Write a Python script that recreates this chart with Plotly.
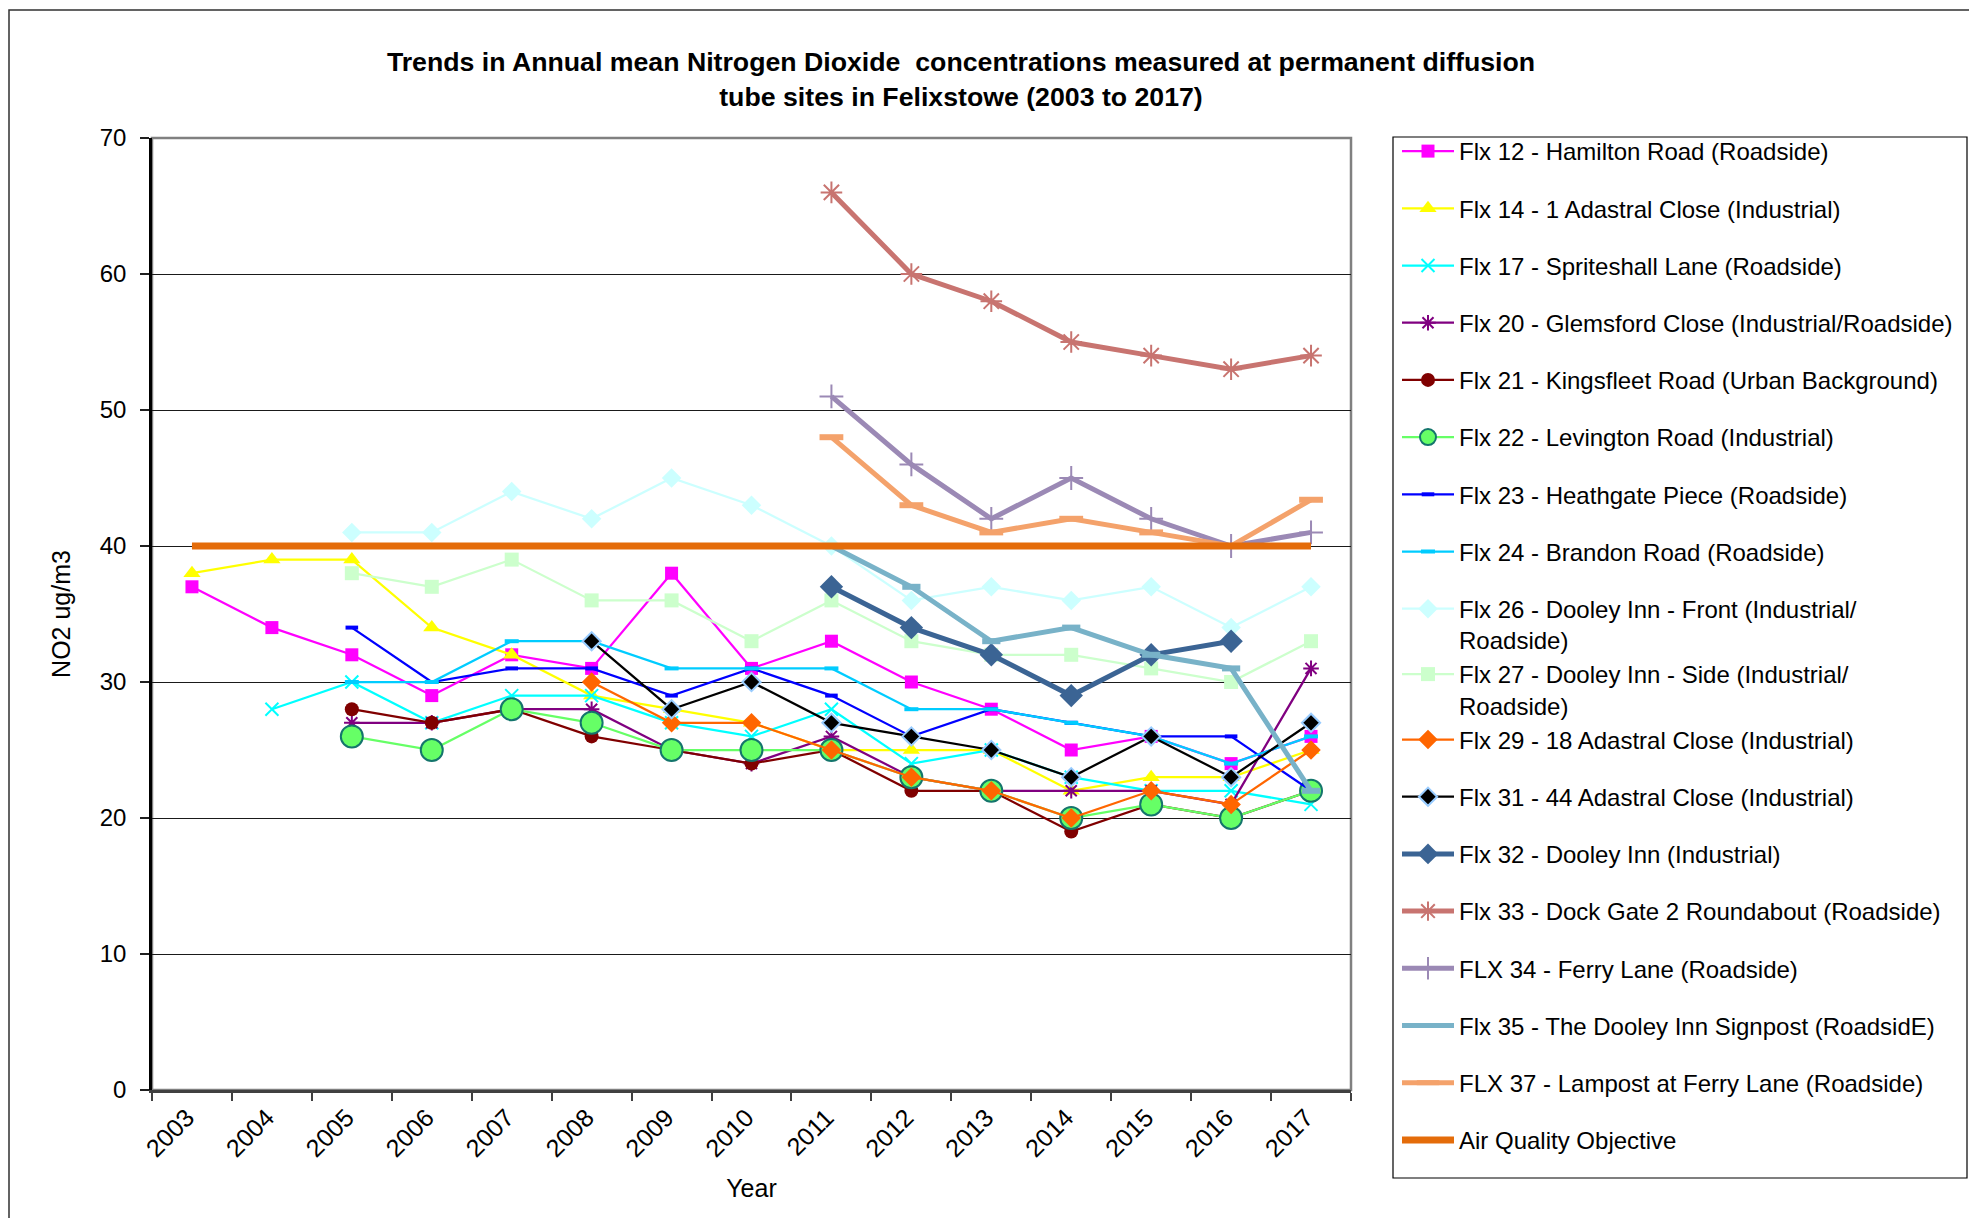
import plotly.graph_objects as go

years = ['2003', '2004', '2005', '2006', '2007', '2008', '2009', '2010',
         '2011', '2012', '2013', '2014', '2015', '2016', '2017']

flx12 = [37, 34, 32, 29, 32, 31, 38, 31, 33, 30, 28, 25, 26, 24, 26]
flx14 = [38, 39, 39, 34, 32, 29, 28, 27, 25, 25, 25, 22, 23, 23, 25]
flx17 = [None, 28, 30, 27, 29, 29, 27, 26, 28, 24, 25, 23, 22, 22, 21]
flx20 = [None, None, 27, 27, 28, 28, 25, 24, 26, 23, 22, 22, 22, 21, 31]
flx21 = [None, None, 28, 27, 28, 26, 25, 24, 25, 22, 22, 19, 21, 20, 22]
flx22 = [None, None, 26, 25, 28, 27, 25, 25, 25, 23, 22, 20, 21, 20, 22]
flx23 = [None, None, 34, 30, 31, 31, 29, 31, 29, 26, 28, 27, 26, 26, 22]
flx24 = [None, None, 30, 30, 33, 33, 31, 31, 31, 28, 28, 27, 26, 24, 26]
flx26 = [None, None, 41, 41, 44, 42, 45, 43, 40, 36, 37, 36, 37, 34, 37]
flx27 = [None, None, 38, 37, 39, 36, 36, 33, 36, 33, 32, 32, 31, 30, 33]
flx29 = [None, None, None, None, None, 30, 27, 27, 25, 23, 22, 20, 22, 21, 25]
flx31 = [None, None, None, None, None, 33, 28, 30, 27, 26, 25, 23, 26, 23, 27]
flx32 = [None, None, None, None, None, None, None, None, 37, 34, 32, 29, 32, 33, None]
flx33 = [None, None, None, None, None, None, None, None, 66, 60, 58, 55, 54, 53, 54]
flx34 = [None, None, None, None, None, None, None, None, 51, 46, 42, 45, 42, 40, 41]
flx35 = [None, None, None, None, None, None, None, None, 40, 37, 33, 34, 32, 31, 22]
flx37 = [None, None, None, None, None, None, None, None, 48, 43, 41, 42, 41, 40, 43.4]
aqo = [40] * 15

FONT = "Liberation Sans, Arial, sans-serif"

series = [
    ("Flx 12 - Hamilton Road (Roadside)", flx12, "#FF00FF", 2.25,
     dict(symbol="square", size=13, color="#FF00FF"), "g1"),
    ("Flx 14 - 1 Adastral Close (Industrial)", flx14, "#FFFF00", 2.25,
     dict(symbol="triangle-up", size=15, color="#FFFF00"), "g2"),
    ("Flx 17 - Spriteshall Lane (Roadside)", flx17, "#00FFFF", 2.25,
     dict(symbol="x-thin-open", size=13, color="#00FFFF", line=dict(color="#00FFFF", width=2)), "g3"),
    ("Flx 20 - Glemsford Close (Industrial/Roadside)", flx20, "#800080", 2.25,
     dict(symbol="asterisk-open", size=13, color="#800080", line=dict(color="#800080", width=2)), "g4"),
    ("Flx 21 - Kingsfleet Road (Urban Background)", flx21, "#800000", 2.25,
     dict(symbol="circle", size=14, color="#800000"), "g5"),
    ("Flx 22 - Levington Road (Industrial)", flx22, "#66FF66", 2.25,
     dict(symbol="circle", size=22, color="#66FF66", line=dict(color="#14756C", width=2)), "g6"),
    ("Flx 23 - Heathgate Piece (Roadside)", flx23, "#0000FF", 2.25,
     dict(symbol="line-ew", size=9, color="#0000FF", line=dict(color="#0000FF", width=4)), "g7"),
    ("Flx 24 - Brandon Road (Roadside)", flx24, "#00CCFF", 2.25,
     dict(symbol="line-ew", size=10, color="#00CCFF", line=dict(color="#00CCFF", width=4)), "g8"),
    ("Flx 26 - Dooley Inn - Front (Industrial/<br>Roadside)", flx26, "#CCFFFF", 2.25,
     dict(symbol="diamond", size=15, color="#CCFFFF"), "g9"),
    ("Flx 27 - Dooley Inn - Side (Industrial/<br>Roadside)", flx27, "#CCFFCC", 2.25,
     dict(symbol="square", size=14, color="#CCFFCC"), "g9"),
    ("Flx 29 - 18 Adastral Close (Industrial)", flx29, "#FF6600", 2.25,
     dict(symbol="diamond", size=15, color="#FF6600"), "g9"),
    ("Flx 31 - 44 Adastral Close (Industrial)", flx31, "#000000", 2.25,
     dict(symbol="diamond", size=14, color="#000000", line=dict(color="#99CCFF", width=2)), "g10"),
    ("Flx 32 - Dooley Inn (Industrial)", flx32, "#3B6494", 5,
     dict(symbol="diamond", size=18, color="#3B6494"), "g11"),
    ("Flx 33 - Dock Gate 2 Roundabout (Roadside)", flx33, "#C87470", 5,
     dict(symbol="asterisk-open", size=18, color="#C87470", line=dict(color="#C87470", width=2)), "g12"),
    ("FLX 34 - Ferry Lane (Roadside)", flx34, "#9B89B5", 5,
     dict(symbol="cross-thin-open", size=17, color="#9B89B5", line=dict(color="#9B89B5", width=2)), "g13"),
    ("Flx 35 - The Dooley Inn Signpost (RoadsidE)", flx35, "#78B2C8", 5,
     dict(symbol="line-ew", size=13, color="#78B2C8", line=dict(color="#78B2C8", width=6)), "g14"),
    ("FLX 37 - Lampost at Ferry Lane (Roadside)", flx37, "#F4A26B", 5,
     dict(symbol="line-ew", size=17, color="#F4A26B", line=dict(color="#F4A26B", width=6)), "g15"),
]

fig = go.Figure()
for name, vals, color, width, marker, grp in series:
    fig.add_trace(go.Scatter(
        x=years, y=vals, name=name, mode="lines+markers",
        line=dict(color=color, width=width), marker=marker,
        legendgroup=grp, connectgaps=False, cliponaxis=False,
    ))

fig.add_trace(go.Scatter(
    x=years, y=aqo, name="Air Quality Objective", mode="lines",
    line=dict(color="#E46C0A", width=7), legendgroup="g16",
))

# The page adds an 8px body margin, so figure px = page px - OFF
OFF = 8
W, H = 1977 - OFF, 1218 - OFF
ML, MR, MT, MB = 144, 626, 130, 128
PW, PH = W - ML - MR, H - MT - MB


def px_x(p):
    """page pixel x -> paper fraction"""
    return (p - OFF - ML) / PW


def px_y(p):
    """page pixel y -> paper fraction"""
    return (H - MB - (p - OFF)) / PH


shapes = [
    # outer chart frame
    dict(type="rect", xref="paper", yref="paper",
         x0=px_x(9), x1=px_x(2010), y0=px_y(10), y1=px_y(1270),
         line=dict(color="#303030", width=1.5), layer="below"),
    # plot area frame
    dict(type="rect", xref="paper", yref="paper", x0=0, x1=1, y0=0, y1=1,
         line=dict(color="#808080", width=2.5), layer="below"),
    # legend frame
    dict(type="rect", xref="paper", yref="paper",
         x0=px_x(1393), x1=px_x(1967), y0=px_y(1178), y1=px_y(137),
         line=dict(color="#000000", width=1.2), layer="below"),
]

fig.update_layout(
    width=W, height=H,
    margin=dict(l=ML, r=MR, t=MT, b=MB, autoexpand=False),
    paper_bgcolor="white", plot_bgcolor="white",
    font=dict(family=FONT, color="black", size=24),
    title=dict(
        text="<b>Trends in Annual mean Nitrogen Dioxide  concentrations measured at permanent diffusion<br>tube sites in Felixstowe (2003 to 2017)</b>",
        x=(961 - OFF) / W, xanchor="center", xref="container",
        y=1 - 63 / H, yanchor="top", yref="container",
        font=dict(family=FONT, size=26.7, color="black"),
    ),
    showlegend=True,
    legend=dict(
        x=(1397 - OFF) / W, xanchor="left", xref="container",
        y=1 - (129 - OFF) / H, yanchor="top", yref="container",
        maxheight=1200, itemwidth=52,
        bgcolor="rgba(0,0,0,0)", borderwidth=0,
        font=dict(family=FONT, size=24, color="black"),
        traceorder="grouped", tracegroupgap=23, valign="top",
    ),
    shapes=shapes,
    xaxis=dict(
        type="category", tickson="boundaries", ticks="outside", ticklen=8,
        tickcolor="#404040", tickwidth=1.5, tickangle=-45, ticklabelshift=-5,
        showline=True, linecolor="#404040", linewidth=3, showgrid=False,
        tickfont=dict(family=FONT, size=25, color="black"),
        title=dict(text="Year", font=dict(family=FONT, size=25, color="black"), standoff=19),
        range=[-0.5, 14.5], zeroline=False,
    ),
    yaxis=dict(
        range=[0, 70], dtick=10, tick0=0, ticks="outside", ticklen=9,
        tickcolor="#202020", tickwidth=1.5, ticklabelstandoff=9,
        showline=True, linecolor="#000000", linewidth=2.5,
        showgrid=True, gridcolor="#1a1a1a", gridwidth=1.2, zeroline=False,
        tickfont=dict(family=FONT, size=24, color="black"),
        title=dict(text="NO2 ug/m3", font=dict(family=FONT, size=25, color="black"), standoff=22),
    ),
)

fig.write_html("out.html")
